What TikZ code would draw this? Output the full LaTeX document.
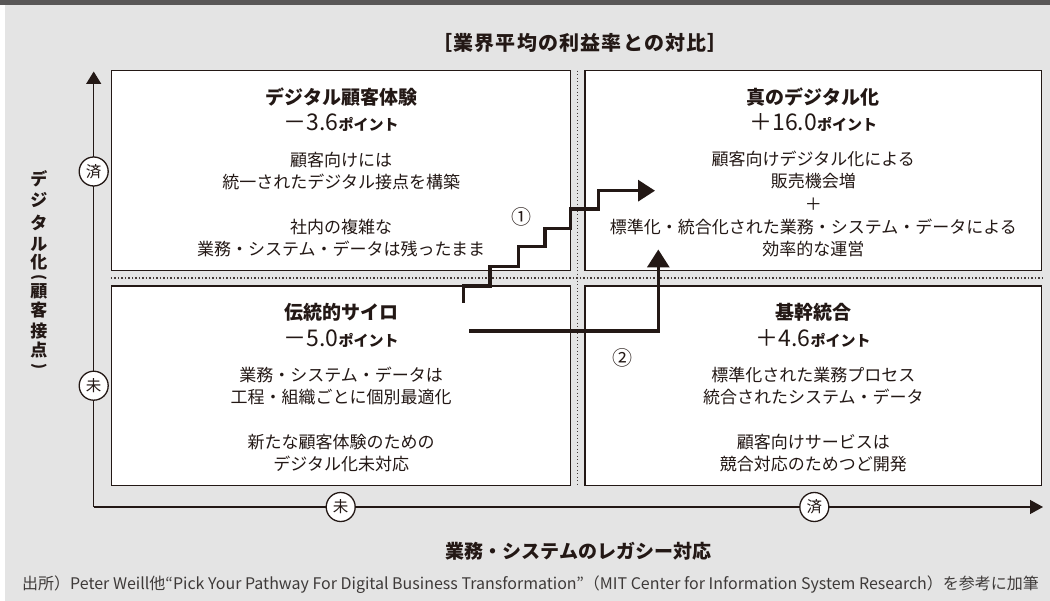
\documentclass[tikz,border=0pt]{standalone}
\usepackage{fontspec}
\usetikzlibrary{arrows.meta}
\newfontfamily\jp{Noto Sans CJK JP}
\definecolor{bg}{HTML}{E4E4E4}
\definecolor{bar}{HTML}{595757}
\definecolor{ink}{HTML}{231815}
\definecolor{srcink}{HTML}{3E3A39}
\newcommand{\ptsuffix}{{\bfseries\fontsize{15}{15}\selectfont ポイント}}
\begin{document}
\begin{tikzpicture}[x=1pt,y=-1pt,
  quad/.style={draw=ink,line width=1.5pt,fill=white,inner sep=0pt},
  sepline/.style={draw=ink!85,line width=1.3pt,dash pattern=on 1.3pt off 2.2pt},
  axisline/.style={draw=ink,line width=1.3pt},
  circ/.style={circle,draw=ink,line width=1.3pt,fill=white,minimum size=29pt,inner sep=0pt,font=\jp\fontsize{15.5}{15.5}\selectfont,text=ink},
  heading/.style={font=\jp\bfseries\fontsize{19}{19}\selectfont,text=ink,inner sep=0pt},
  pts/.style={font=\jp\fontsize{23}{23}\selectfont,text=ink,inner sep=0pt,anchor=base},
  body/.style={font=\jp\fontsize{17}{22}\selectfont,text=ink,align=center,inner sep=0pt},
  path/.style={draw=ink,line width=3.3pt,line join=miter},
  numlab/.style={font=\jp\fontsize{20}{20}\selectfont,text=ink,inner sep=0pt},
  ychar/.style={font=\jp\bfseries\fontsize{17}{17}\selectfont,text=ink,inner sep=0pt},
  yparen/.style={font=\jp\bfseries\fontsize{15}{15}\selectfont,text=ink,inner sep=0pt,rotate=-90}
]
\useasboundingbox (0,0) rectangle (1050,601);
\fill[white] (0,0) rectangle (1050,601);
\fill[bg] (5,0) rectangle (1050,601);
\fill[bar] (0,0) rectangle (1050,5.5);

% title
\node[font=\jp\bfseries\fontsize{20}{20}\selectfont\addfontfeature{LetterSpace=6},text=ink,inner sep=0pt] (title) at (580,43.3) {［業界平均の利益率との対比］};

% quadrants
\node[quad,minimum width=459pt,minimum height=199.8pt] (tl) at (341.2,170.6) {};
\node[quad,minimum width=456.5pt,minimum height=199.8pt] (tr) at (813.25,170.6) {};
\node[quad,minimum width=459pt,minimum height=199.7pt] (bl) at (341.2,385.85) {};
\node[quad,minimum width=456.5pt,minimum height=199.7pt] (br) at (813.25,385.85) {};

% separators
\draw[sepline] (tl.south west |- 0,278) -- (tr.south east |- 0,278);
\draw[sepline] (577.7,70.7) -- (577.7,485.7);

% axes
\coordinate (O) at (93.7,507);
\coordinate (ytip) at (93.7,71.5);
\coordinate (xtip) at (1043,507);
\draw[axisline,-{Triangle[length=12.5pt,width=15pt]}] (O) -- (ytip);
\draw[axisline,-{Triangle[length=13pt,width=14pt]}] (O) -- (xtip);
\node[circ] (ydone) at (93.7,171.5) {済};
\node[circ] (ynot) at (93.7,385.7) {未};
\node[circ] (xnot) at (340.7,507) {未};
\node[circ] (xdone) at (814.3,507) {済};

% top-left
\node[heading] (tlh) at (341.2,97) {デジタル顧客体験};
\node[pts] (tlp) at (341.2,131) {－3.6\ptsuffix};
\node[body] (tlb1) at (341.2,171.5) {顧客向けには\\統一されたデジタル接点を構築};
\node[body] (tlb2) at (341.2,238) {社内の複雑な\\業務・システム・データは残ったまま};

% top-right
\node[heading] (trh) at (813.25,97) {真のデジタル化};
\node[pts] (trp) at (813.25,131) {＋16.0\ptsuffix};
\node[body,font=\jp\fontsize{17}{22.7}\selectfont] (trb) at (813.25,204) {顧客向けデジタル化による\\販売機会増\\＋\\標準化・統合化された業務・システム・データによる\\効率的な運営};

% bottom-left
\node[heading] (blh) at (341.2,312.5) {伝統的サイロ};
\node[pts] (blp) at (341.2,346.5) {－5.0\ptsuffix};
\node[body] (blb1) at (341.2,386) {業務・システム・データは\\工程・組織ごとに個別最適化};
\node[body] (blb2) at (341.2,453) {新たな顧客体験のための\\デジタル化未対応};

% bottom-right
\node[heading] (brh) at (813.25,312.5) {基幹統合};
\node[pts] (brp) at (813.25,346.5) {＋4.6\ptsuffix};
\node[body] (brb1) at (813.25,386) {標準化された業務プロセス\\統合されたシステム・データ};
\node[body] (brb2) at (813.25,453) {顧客向けサービスは\\競合対応のためつど開発};

% pathways
\coordinate (s0) at (463.3,302.7);
\coordinate (s1) at (655,190.7);
\draw[path,-{Triangle[length=17pt,width=21pt]}] (s0) -- (463.3,286) -- (490,286) -- (490,266.7) -- (518.3,266.7) -- (518.3,246.7) -- (545,246.7) -- (545,228.3) -- (570.7,228.3) -- (570.7,209) -- (598.3,209) -- (598.3,190.7) -- (s1);
\coordinate (l0) at (469.3,331);
\coordinate (l1) at (658.3,249.5);
\draw[path,-{Triangle[length=18pt,width=22pt]}] (l0) -| (l1);
\node[numlab] (n1) at (521.7,216.7) {①};
\node[numlab] (n2) at (622.7,358.3) {②};

% vertical axis label (upright characters, stacked)
\foreach \c/\yy [count=\i] in {デ/179.2, ジ/200.5, タ/222.5, ル/244.2, 化/262.3, 顧/291.7, 客/310.5, 接/330.8, 点/350}
  \node[ychar] (ylab\i) at (39,\yy) {\c};
\node[yparen] (ylabL) at (39,277.5) {(};
\node[yparen] (ylabR) at (39,366.7) {)};

% horizontal axis label
\node[font=\jp\bfseries\fontsize{19}{19}\selectfont,text=ink,inner sep=0pt] (xlab) at (578.5,551.5) {業務・システムのレガシー対応};

% source
\node[font=\jp\fontsize{16}{16}\selectfont,text=srcink,inner sep=0pt,anchor=base west] (src) at (22,589) {出所）Peter Weill他“Pick Your Pathway For Digital Business Transformation”（MIT Center for Information System Research）を参考に加筆};
\end{tikzpicture}
\end{document}
